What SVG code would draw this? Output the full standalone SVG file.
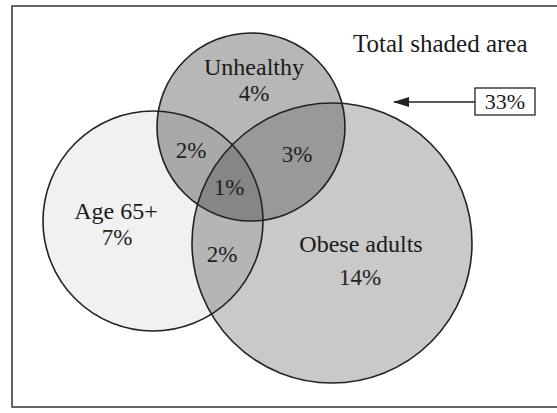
<svg xmlns="http://www.w3.org/2000/svg" width="557" height="413" viewBox="0 0 557 413">
  <defs>
    <clipPath id="clipAge"><circle cx="153" cy="221" r="110"/></clipPath>
    <clipPath id="clipObese"><circle cx="332" cy="243" r="140"/></clipPath>
    <marker id="arrow" viewBox="0 0 16 10" refX="15" refY="5" markerWidth="16" markerHeight="10" markerUnits="userSpaceOnUse" orient="auto">
      <path d="M0,0 L16,5 L0,10 z" fill="#222"/>
    </marker>
  </defs>
  <style>
    .outline { fill: none; stroke: #222; stroke-width: 1.6; }
    .lbl { font-family: "Liberation Serif", "Times New Roman", serif; font-size: 24px; fill: #1a1a1a; text-anchor: middle; }
    .pct { font-family: "Liberation Serif", "Times New Roman", serif; font-size: 23px; fill: #222; text-anchor: middle; }
  </style>
  <rect width="557" height="413" fill="#ffffff"/>
  <rect x="12" y="6" width="560" height="401" fill="none" stroke="#333" stroke-width="1.5"/>

  <g id="age">
    <circle cx="153" cy="221" r="110" fill="#f1f1f1"/>
  </g>
  <g id="obese">
    <circle cx="332" cy="243" r="140" fill="#c9c9c9"/>
    <circle cx="332" cy="243" r="140" fill="#b5b5b5" clip-path="url(#clipAge)"/>
  </g>
  <g id="unhealthy">
    <circle cx="251" cy="127" r="94" fill="#b7b7b7"/>
    <circle cx="251" cy="127" r="94" fill="#a9a9a9" clip-path="url(#clipAge)"/>
    <circle cx="251" cy="127" r="94" fill="#999999" clip-path="url(#clipObese)"/>
    <g clip-path="url(#clipAge)">
      <circle cx="251" cy="127" r="94" fill="#868686" clip-path="url(#clipObese)"/>
    </g>
  </g>
  <g id="outlines">
    <circle class="outline" cx="153" cy="221" r="110"/>
    <circle class="outline" cx="332" cy="243" r="140"/>
    <circle class="outline" cx="251" cy="127" r="94"/>
  </g>

  <g id="labels">
    <text class="lbl" x="254" y="75">Unhealthy</text>
    <text class="pct" x="254" y="101">4%</text>
    <text class="lbl" x="116" y="219">Age 65+</text>
    <text class="pct" x="117" y="245">7%</text>
    <text class="lbl" x="361" y="252">Obese adults</text>
    <text class="pct" x="360" y="285">14%</text>
    <text class="pct" x="191" y="158">2%</text>
    <text class="pct" x="297" y="162" fill="#444">3%</text>
    <text class="pct" x="229" y="195" font-size="21" fill="#333">1%</text>
    <text class="pct" x="222" y="262">2%</text>
  </g>

  <g id="total">
    <text x="353" y="52" font-family="Liberation Serif, Times New Roman, serif" font-size="25" fill="#1a1a1a">Total shaded area</text>
  </g>
  <g id="box33">
    <rect x="475" y="88" width="60" height="27" fill="#ffffff" stroke="#222" stroke-width="1.3"/>
    <text x="505" y="109" font-family="Liberation Serif, Times New Roman, serif" font-size="22" fill="#1a1a1a" text-anchor="middle">33%</text>
  </g>
  <g id="connectors">
    <line x1="475" y1="102" x2="394" y2="102" stroke="#222" stroke-width="1.5" marker-end="url(#arrow)"/>
  </g>
</svg>
